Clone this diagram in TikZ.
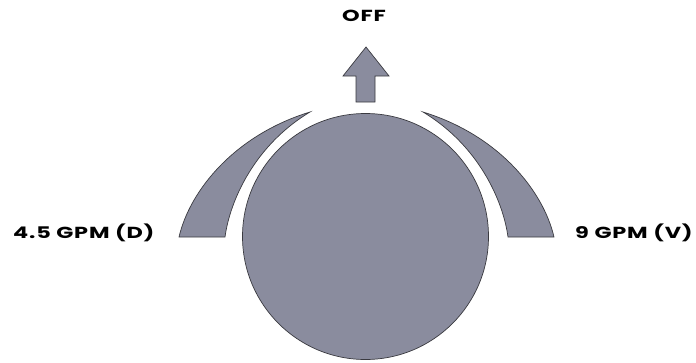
\documentclass[tikz,border=0pt]{standalone}
\usepackage{fontspec}
\setmainfont{Poppins}[BoldFont={* Bold}]
\newfontfamily\labelfont{Poppins Bold}[FakeStretch=1.4,LetterSpace=5]
\usepackage{tikz}
\definecolor{dialgray}{HTML}{8A8C9E}
\definecolor{edgegray}{HTML}{3A3A40}

\begin{document}
\begin{tikzpicture}[x=1pt,y=-1pt,every node/.style={font=\labelfont\fontsize{16}{19}\selectfont},
  part/.style={fill=dialgray,draw=edgegray,line width=.7pt}]
\useasboundingbox (0,0) rectangle (696,362);
% knob
\draw[part] (365.5,236.5) circle (123);
% pointer to off
\draw[part] (366,47)--(389,76)--(375,76)--(375,102)--(356,102)--(356,76)--(343,76)--cycle;
\node[anchor=base] (off) at (364,21) {OFF};
% left sweep
\draw[part] (179,237) .. controls (190,190) and (235,135) .. (310,112)
  .. controls (255,145) and (230,200) .. (225,237) -- cycle;
\node[anchor=base west,inner sep=0pt] (low) at (13,238) {4.5 GPM (D)};
% right sweep
\draw[part] (554,237) .. controls (543,190) and (498,135) .. (423,112)
  .. controls (478,145) and (503,200) .. (508,237) -- cycle;
\node[anchor=base west,inner sep=0pt] (high) at (575,238) {9 GPM (V)};
\end{tikzpicture}
\end{document}
